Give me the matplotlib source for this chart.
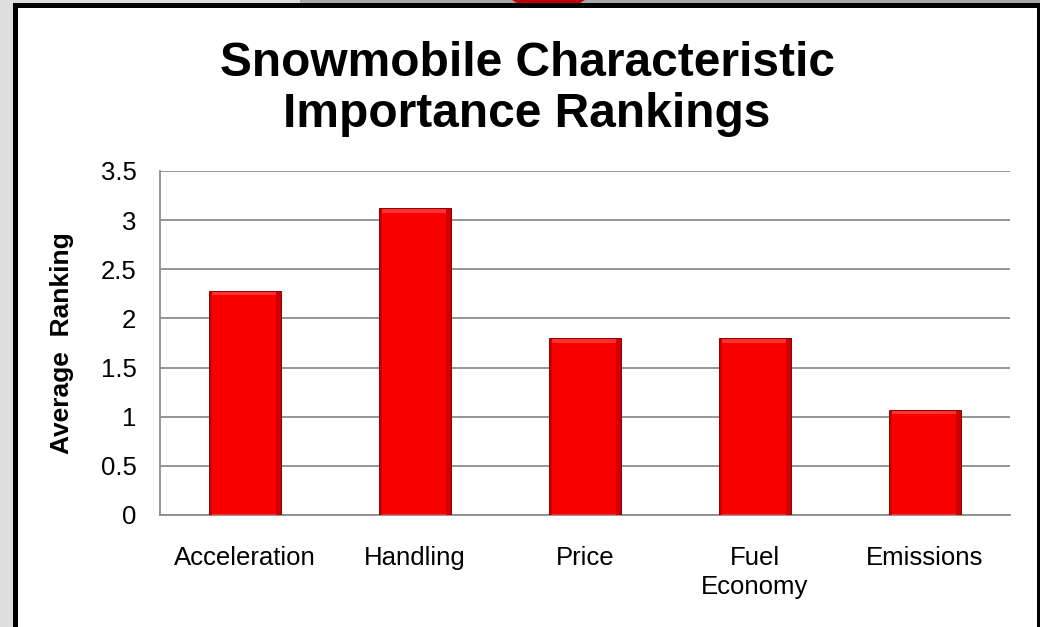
#plot.py
#snowmobile characteristic importance rankings
import matplotlib
matplotlib.use("Agg")
import matplotlib.pyplot as plt
from matplotlib.patches import Rectangle, Polygon
import numpy as np

#data
categories = ["Acceleration", "Handling", "Price", "Fuel\nEconomy", "Emissions"]
rankings = [2.28, 3.12, 1.80, 1.80, 1.07]
yticks = [0, 0.5, 1, 1.5, 2, 2.5, 3, 3.5]
ytick_labels = ["0", "0.5", "1", "1.5", "2", "2.5", "3", "3.5"]

plt.rcParams["font.family"] = ["Liberation Sans", "DejaVu Sans"]

W, H = 1040, 627
fig = plt.figure(figsize=(W / 100, H / 100), dpi=100, facecolor="#dedede")

#frame around the slide (pixel coords -> figure fraction)
def px_rect(x0, y0, x1, y1, **kw):
    r = Rectangle((x0 / W, 1 - y1 / H), (x1 - x0) / W, (y1 - y0) / H,
                  transform=fig.transFigure, zorder=-5, **kw)
    fig.patches.append(r)

px_rect(300, 0, W, 3, facecolor="#a8a8a8", edgecolor="none")
fig.patches.append(Polygon([(512 / W, 1), (585 / W, 1), (580 / W, 1 - 3 / H), (517 / W, 1 - 3 / H)],
                           closed=True, transform=fig.transFigure, facecolor="#c00000",
                           edgecolor="none", zorder=-5))
px_rect(13, 3, W, H, facecolor="black", edgecolor="none")
px_rect(18, 8, 1037, H, facecolor="white", edgecolor="none")

ax = fig.add_axes([160 / W, 112 / H, 850 / W, 344 / H])
ax.set_facecolor("none")

x = np.arange(len(categories))
vals = np.array(rankings)
bw = 0.42
#shadow, outer bevel, top highlight and inner face
ax.bar(x + 0.01, vals - 0.02, bw, bottom=-0.02, color="#000000", alpha=0.15, zorder=2)
ax.bar(x, vals, bw, color="#d00000", edgecolor="#8a0000", linewidth=0.7, zorder=3)
ax.bar(x - 0.004, vals - 0.01, bw * 0.9, bottom=0.0, color="#ff3030", zorder=4)
ax.bar(x - 0.004, vals - 0.06, bw * 0.9, bottom=0.015, color="#f80000", zorder=5)

ax.set_xlim(-0.5, len(categories) - 0.5)
ax.set_ylim(0, 3.5)
ax.set_yticks(yticks)
ax.set_yticklabels(ytick_labels)
ax.set_xticks(x)
ax.set_xticklabels(categories, linespacing=1.3)
ax.tick_params(axis="y", length=0, pad=17, labelsize=18.5)
ax.tick_params(axis="x", length=0, pad=22, labelsize=18.5)

ax.grid(axis="y", color="#8c8c8c", linewidth=1.3, zorder=1)
ax.set_axisbelow(True)
for s in ["top", "right"]:
    ax.spines[s].set_visible(False)
for s in ["left", "bottom"]:
    ax.spines[s].set_color("#8c8c8c")
    ax.spines[s].set_linewidth(1.3)

ax.set_ylabel("Average  Ranking", fontsize=19, fontweight="bold")
ax.yaxis.set_label_coords(-86 / 850, 0.5)

fig.text(527 / W, 1 - 89 / H, "Snowmobile Characteristic\nImportance Rankings",
         ha="center", va="center", fontsize=34.5, fontweight="bold", linespacing=1.15)

fig.savefig("out.png", dpi=100, facecolor=fig.get_facecolor())
